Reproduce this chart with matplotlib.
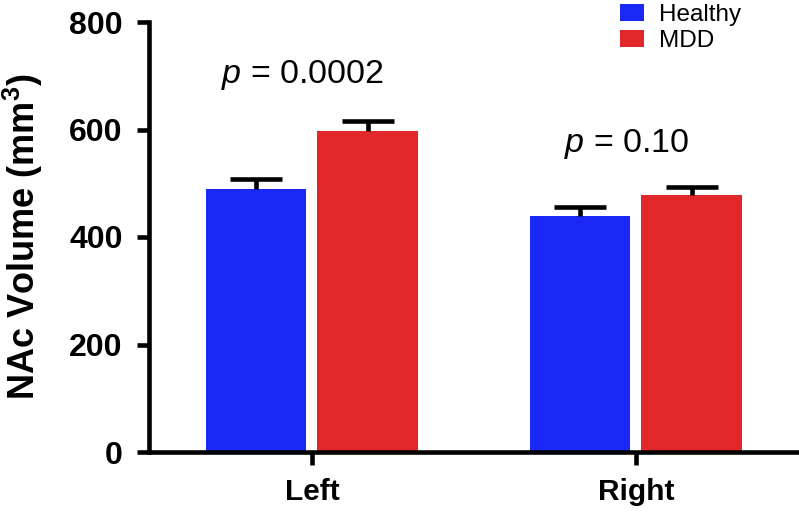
import numpy as np
import matplotlib
matplotlib.use("Agg")
import matplotlib.pyplot as plt

# ---- data ----
SIDES = ["Left", "Right"]
GROUPS = ["Healthy", "MDD"]
HEALTHY = [489, 439]
MDD = [597, 478]
HEALTHY_SEM = [19, 17]
MDD_SEM = [19, 15]
P_LABELS = ["0.0002", "0.10"]
P_Y = [701, 573]
Y_TICKS = [0, 200, 400, 600, 800]

COLORS = {"Healthy": "#1a28f5", "MDD": "#e0282a"}

plt.rcParams["font.family"] = "Liberation Sans"
plt.rcParams["mathtext.fontset"] = "custom"
plt.rcParams["mathtext.rm"] = "Liberation Sans"
plt.rcParams["mathtext.it"] = "Liberation Sans:italic"
plt.rcParams["mathtext.bf"] = "Liberation Sans:bold"

fig = plt.figure(figsize=(7.99, 5.16), dpi=100)
ax = fig.add_axes([149 / 799, 64 / 516, 648 / 799, 430 / 516])

x = np.arange(len(SIDES))
width = 0.309
off = 0.1715
lw = 3.3

for vals, sem, name, sign in [(HEALTHY, HEALTHY_SEM, "Healthy", -1), (MDD, MDD_SEM, "MDD", 1)]:
    ax.bar(x + sign * off, vals, width, color=COLORS[name], label=name, zorder=2)
    _, caps, _ = ax.errorbar(x + sign * off, vals, yerr=[np.zeros(len(sem)), sem], fmt="none",
                             ecolor="black", elinewidth=lw, capsize=19, capthick=lw, zorder=3)
    caps[0].set_visible(False)  # only the upper cap

for xi, lab, py in zip(x, P_LABELS, P_Y):
    ax.text(xi - 0.03, py, "$p$ = " + lab, ha="center", va="center", fontsize=24.5)

ax.set_xlim(-0.503, 1.497)
ax.set_ylim(0, 800)
ax.set_yticks(Y_TICKS)
ax.set_xticks(x)
ax.set_xticklabels(SIDES, fontsize=21.5, fontweight="bold")
ax.set_yticklabels([str(t) for t in Y_TICKS], fontsize=23, fontweight="bold")
ax.tick_params(axis="y", length=9, width=lw, pad=10)
ax.tick_params(axis="x", length=9, width=lw, pad=10)

for s in ["top", "right"]:
    ax.spines[s].set_visible(False)
for s in ["left", "bottom"]:
    ax.spines[s].set_linewidth(lw)

ax.set_ylabel("NAc Volume (mm$^{\\mathbf{3}}$)", fontsize=26, fontweight="bold")
ax.yaxis.set_label_coords(-0.16, 0.5)

fig.legend(loc="upper left", bbox_to_anchor=(620 / 799, 1 - 4 / 516),
           frameon=False, fontsize=17.5, handlelength=1.0, handleheight=0.73,
           handletextpad=0.6, labelspacing=0.15, borderpad=0, borderaxespad=0)

fig.savefig("out.png", dpi=100)
